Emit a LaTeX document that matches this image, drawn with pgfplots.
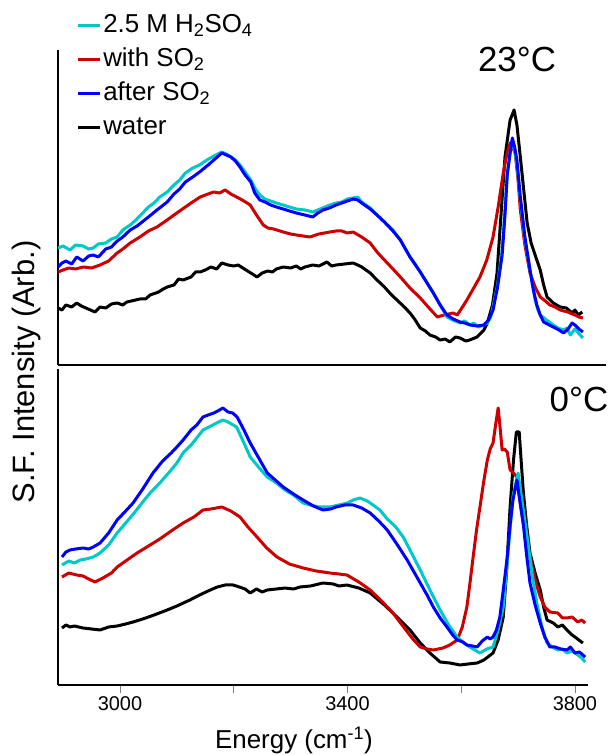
\documentclass[border=0pt]{standalone}
\usepackage{fontspec}
\setmainfont{Liberation Sans}
\usepackage{pgfplots}
\pgfplotsset{compat=1.18}
\definecolor{cy}{RGB}{0,200,200}
\definecolor{rd}{RGB}{204,0,0}
\definecolor{bl}{RGB}{0,0,255}
\begin{document}
\begin{tikzpicture}
\useasboundingbox (0,0) rectangle (608bp,755bp);
\pgfplotsset{panel/.style={scale only axis, width=530bp, xmin=2891, xmax=3823, ymin=0,
  axis x line=bottom, axis y line=left, axis line style={-, line width=1.6bp, black},
  ytick=\empty, clip=true,
  every axis plot/.append style={line width=3bp, line join=round}}}
% ---------------- top panel (23 C)
\begin{axis}[panel, at={(58bp,390bp)}, anchor=south west, height=315bp, ymax=315, xtick=\empty,
  legend style={at={(rel axis cs:0.035,1.125)}, anchor=north west, draw=none, fill=none,
    font=\fontsize{26}{30}\selectfont, row sep=4bp, inner sep=0pt,
    nodes={inner xsep=1.5bp, inner ysep=1.5bp, text height=20bp, text depth=7bp}},
  legend cell align=left,
  legend image code/.code={\draw[#1, line width=3bp] (0bp,0bp) -- (22bp,0bp);}]
\addlegendimage{cy}\addlegendentry{2.5 M H\textsubscript{2}SO\textsubscript{4}}
\addlegendimage{rd}\addlegendentry{with SO\textsubscript{2}}
\addlegendimage{bl}\addlegendentry{after SO\textsubscript{2}}
\addlegendimage{black}\addlegendentry{water}
% water
\addplot[black, forget plot] coordinates {(2891,57)(2898,55)(2905,60)(2915,58)(2924,62)(2932,59)(2940,57)(2948,55)(2956,53)(2965,58)(2975,57)(2985,61)(2995,62)(3005,60)(3012,63)(3020,64)(3035,66)(3045,66)(3053,70)(3068,73)(3076,76)(3083,78)(3095,80)(3103,86)(3111,85)(3125,88)(3133,93)(3141,93)(3150,95)(3160,98)(3170,96)(3179,102)(3190,100)(3200,99)(3208,100)(3216,97)(3230,92)(3241,88)(3250,92)(3260,94)(3268,93)(3275,96)(3287,98)(3300,97)(3310,99)(3318,96)(3325,98)(3339,100)(3350,99)(3364,103)(3372,99)(3380,100)(3395,101)(3410,102)(3418,100)(3425,98)(3440,92)(3452,85)(3465,78)(3476,71)(3487,65)(3500,58)(3510,52)(3518,46)(3528,37)(3537,34)(3545,30)(3555,28)(3563,25)(3572,26)(3580,23)(3590,28)(3598,27)(3608,24)(3615,25)(3628,28)(3640,35)(3646,42)(3655,60)(3663,92)(3670,150)(3677,208)(3686,245)(3693,255)(3698,240)(3704,208)(3710,175)(3716,142)(3723,122)(3730,110)(3739,95)(3745,80)(3751,68)(3762,62)(3774,58)(3785,57)(3795,52)(3800,55)(3806,50)(3813,53)};
% with SO2
\addplot[rd, forget plot] coordinates {(2891,93)(2900,95)(2910,97)(2922,96)(2935,98)(2950,97)(2965,100)(2980,104)(2995,112)(3005,116)(3018,122)(3035,128)(3050,134)(3065,138)(3083,145)(3095,150)(3110,156)(3125,162)(3141,168)(3155,171)(3165,173)(3175,172)(3185,175)(3195,171)(3205,168)(3215,165)(3229,160)(3240,150)(3252,140)(3260,137)(3270,136)(3287,133)(3300,131)(3310,130)(3322,129)(3334,128)(3350,131)(3369,133)(3380,134)(3390,134)(3400,132)(3410,133)(3425,128)(3440,122)(3452,113)(3465,105)(3480,96)(3493,88)(3510,77)(3528,67)(3542,58)(3558,48)(3570,50)(3586,52)(3593,50)(3600,56)(3610,65)(3620,75)(3633,88)(3645,105)(3656,128)(3665,158)(3674,192)(3680,210)(3686,222)(3695,212)(3700,185)(3704,155)(3712,120)(3721,92)(3730,78)(3739,68)(3748,64)(3756,60)(3765,58)(3774,55)(3787,53)(3800,50)(3807,48)(3814,47)};
% 2.5 M H2SO4
\addplot[cy, forget plot] coordinates {(2891,117)(2900,119)(2912,115)(2922,120)(2935,119)(2945,116)(2953,117)(2962,121)(2975,122)(2985,126)(2995,128)(3005,135)(3018,140)(3028,145)(3040,152)(3050,158)(3060,162)(3070,168)(3083,173)(3095,180)(3105,185)(3115,192)(3128,197)(3140,200)(3150,204)(3165,209)(3179,213)(3187,211)(3195,208)(3203,205)(3211,200)(3220,193)(3230,185)(3238,176)(3246,170)(3255,166)(3265,164)(3275,162)(3287,160)(3298,158)(3310,156)(3325,155)(3339,153)(3352,156)(3369,160)(3380,162)(3390,163)(3400,166)(3410,167)(3418,168)(3425,163)(3440,157)(3452,150)(3465,143)(3480,135)(3493,125)(3502,116)(3510,108)(3520,100)(3528,93)(3540,82)(3551,72)(3563,60)(3575,48)(3585,45)(3598,42)(3606,44)(3616,40)(3622,42)(3630,38)(3640,40)(3646,42)(3652,48)(3656,58)(3664,80)(3672,115)(3677,155)(3681,192)(3686,212)(3690,225)(3694,215)(3698,200)(3704,165)(3712,125)(3721,95)(3730,65)(3735,55)(3739,50)(3750,45)(3762,40)(3770,37)(3780,35)(3786,37)(3792,30)(3800,36)(3806,32)(3814,27)};
% after SO2
\addplot[bl, forget plot] coordinates {(2891,98)(2898,102)(2905,104)(2915,101)(2924,108)(2935,104)(2945,109)(2953,110)(2962,108)(2975,116)(2985,118)(2995,124)(3005,128)(3018,135)(3030,139)(3050,148)(3065,155)(3083,163)(3095,171)(3105,176)(3115,183)(3128,188)(3140,193)(3155,200)(3165,205)(3179,212)(3187,210)(3195,208)(3203,204)(3211,198)(3220,190)(3230,183)(3237,172)(3246,165)(3255,163)(3265,160)(3275,158)(3287,156)(3298,154)(3310,152)(3325,150)(3339,148)(3348,152)(3357,155)(3368,157)(3380,160)(3395,163)(3410,166)(3418,165)(3425,162)(3440,156)(3452,150)(3465,143)(3480,134)(3493,125)(3510,108)(3528,93)(3540,82)(3551,72)(3563,60)(3575,50)(3586,46)(3598,43)(3606,42)(3616,40)(3628,39)(3640,40)(3648,45)(3656,55)(3664,78)(3672,110)(3677,150)(3681,190)(3686,212)(3690,227)(3694,218)(3698,205)(3704,168)(3712,128)(3721,95)(3727,75)(3733,60)(3739,50)(3745,43)(3755,40)(3762,38)(3772,35)(3780,32)(3788,36)(3795,42)(3800,40)(3807,36)(3814,33)};
\end{axis}
% ---------------- bottom panel (0 C)
\begin{axis}[panel, at={(58bp,70bp)}, anchor=south west, height=316bp, ymax=316,
  xtick={3000,3200,3400,3600,3800}, xticklabels={3000,,3400,,3800},
  tick align=outside, major tick length=8bp,
  x tick style={gray, line width=0.8bp},
  tick label style={font=\fontsize{20}{24}\selectfont}]
% water
\addplot[black] coordinates {(2898,57)(2905,60)(2912,58)(2920,59)(2935,57)(2950,56)(2965,55)(2980,58)(2995,59)(3010,61)(3023,63)(3040,66)(3060,70)(3083,75)(3100,79)(3123,85)(3140,90)(3155,94)(3171,98)(3185,100)(3199,100)(3210,98)(3220,96)(3229,92)(3240,96)(3250,93)(3259,95)(3275,96)(3290,97)(3305,96)(3317,98)(3335,99)(3357,102)(3375,101)(3385,99)(3399,100)(3420,97)(3440,92)(3465,80)(3487,68)(3510,55)(3528,42)(3545,32)(3563,23)(3580,22)(3598,20)(3612,21)(3628,22)(3640,25)(3656,32)(3665,45)(3674,68)(3680,115)(3686,178)(3692,225)(3697,253)(3702,253)(3709,195)(3715,160)(3721,132)(3730,112)(3739,95)(3745,78)(3751,65)(3762,62)(3770,58)(3778,60)(3786,55)(3795,50)(3800,48)(3807,45)(3814,42)};
% with SO2
\addplot[rd] coordinates {(2898,108)(2910,112)(2924,110)(2935,109)(2945,106)(2956,103)(2970,107)(2985,112)(2995,118)(3010,124)(3030,132)(3053,140)(3070,146)(3090,154)(3111,162)(3130,168)(3146,175)(3160,176)(3179,178)(3195,174)(3211,168)(3225,158)(3241,148)(3258,137)(3276,128)(3298,121)(3322,117)(3345,114)(3369,112)(3385,111)(3399,110)(3420,103)(3440,95)(3460,84)(3480,72)(3500,57)(3515,46)(3528,38)(3540,36)(3551,35)(3568,37)(3580,40)(3593,45)(3602,58)(3610,78)(3615,100)(3621,128)(3627,155)(3633,178)(3640,205)(3646,225)(3651,236)(3656,242)(3661,262)(3665,277)(3668,260)(3672,235)(3676,236)(3681,233)(3686,215)(3692,212)(3698,208)(3703,185)(3709,162)(3715,145)(3721,128)(3730,105)(3739,88)(3747,78)(3756,73)(3770,72)(3778,67)(3786,67)(3795,68)(3805,63)(3812,65)(3818,62)};
% 2.5 M H2SO4
\addplot[cy] coordinates {(2898,120)(2910,124)(2920,122)(2930,125)(2940,126)(2953,128)(2965,132)(2980,140)(2995,152)(3010,162)(3025,172)(3040,183)(3053,192)(3070,202)(3090,215)(3100,222)(3111,232)(3125,240)(3135,247)(3146,255)(3160,259)(3170,262)(3181,265)(3190,263)(3205,258)(3218,242)(3229,228)(3245,217)(3259,208)(3275,202)(3290,195)(3305,190)(3322,182)(3335,180)(3350,178)(3369,178)(3385,180)(3400,182)(3410,185)(3422,187)(3435,184)(3445,180)(3457,175)(3470,166)(3485,158)(3498,148)(3510,135)(3528,115)(3545,95)(3563,75)(3578,60)(3593,48)(3605,42)(3615,38)(3633,32)(3645,36)(3656,38)(3665,55)(3674,78)(3682,130)(3691,188)(3700,212)(3708,180)(3716,148)(3725,110)(3733,82)(3742,58)(3751,42)(3760,38)(3770,35)(3778,36)(3786,32)(3795,34)(3805,30)(3812,27)(3818,23)};
% after SO2
\addplot[bl] coordinates {(2898,128)(2905,133)(2912,135)(2922,136)(2935,137)(2945,136)(2953,138)(2965,142)(2980,152)(2995,165)(3010,174)(3023,182)(3040,196)(3058,212)(3075,224)(3090,232)(3100,238)(3111,245)(3125,255)(3135,260)(3146,268)(3155,270)(3165,272)(3172,274)(3181,277)(3190,273)(3198,272)(3206,268)(3218,255)(3229,242)(3245,226)(3259,212)(3275,204)(3287,198)(3305,191)(3322,185)(3340,179)(3357,175)(3370,176)(3380,178)(3395,180)(3410,180)(3425,177)(3440,172)(3455,164)(3470,155)(3488,140)(3505,125)(3515,115)(3528,102)(3540,90)(3551,78)(3563,67)(3575,58)(3585,50)(3593,45)(3603,43)(3610,40)(3620,39)(3628,38)(3637,44)(3646,48)(3651,46)(3656,48)(3662,55)(3668,68)(3674,95)(3681,128)(3686,160)(3691,185)(3698,205)(3703,185)(3709,162)(3715,130)(3721,102)(3730,80)(3739,62)(3747,48)(3756,38)(3765,38)(3775,36)(3786,35)(3792,38)(3800,32)(3808,33)(3818,28)};
\end{axis}
% divider between the panels runs on to the right edge
\draw[line width=1.6bp] (587bp,390bp) -- (606bp,390bp);
% labels
\node[rotate=90] at (27bp,383bp) {\fontsize{31}{36}\selectfont S.F. Intensity (Arb.)};
\node at (294bp,15bp) {\fontsize{26}{30}\selectfont Energy (cm\textsuperscript{-1})};
\node at (517bp,695bp) {\fontsize{35}{40}\selectfont 23°C};
\node at (579bp,355bp) {\fontsize{35}{40}\selectfont 0°C};
\end{tikzpicture}
\end{document}
